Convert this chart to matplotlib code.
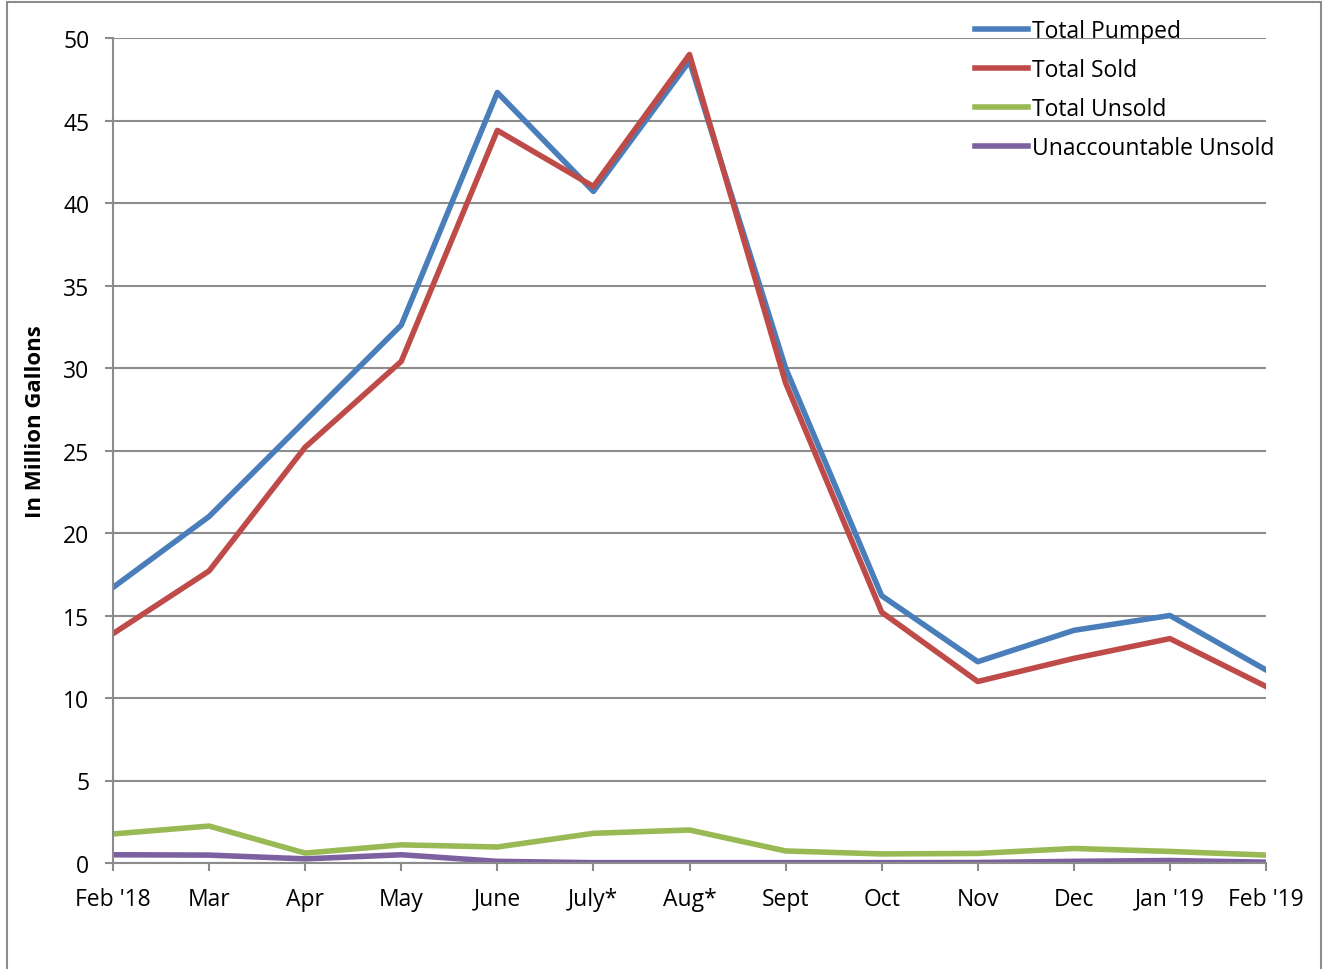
import matplotlib.pyplot as plt
from matplotlib.patches import Rectangle

months = ["Feb '18", 'Mar', 'Apr', 'May', 'June', 'July*', 'Aug*',
          'Sept', 'Oct', 'Nov', 'Dec', "Jan '19", "Feb '19"]

total_pumped = [16.7, 21.0, 26.8, 32.6, 46.7, 40.7, 48.6, 30.0, 16.2, 12.2, 14.1, 15.0, 11.7]
total_sold = [13.9, 17.7, 25.2, 30.4, 44.4, 41.0, 49.0, 29.1, 15.2, 11.0, 12.4, 13.6, 10.7]
total_unsold = [1.76, 2.24, 0.6, 1.1, 0.97, 1.8, 2.0, 0.73, 0.55, 0.58, 0.88, 0.7, 0.48]
unaccountable = [0.5, 0.48, 0.25, 0.5, 0.1, 0.02, 0.02, 0.02, 0.02, 0.03, 0.1, 0.15, 0.05]

plt.rcParams['font.family'] = ['Open Sans', 'DejaVu Sans']
grey = '#8c8c8c'

fig = plt.figure(figsize=(13.28, 9.7), dpi=100)
ax = fig.add_axes([113 / 1328, 1 - 864 / 970, (1266 - 113) / 1328, (864 - 39) / 970])

x = range(len(months))
lw = 4.0
ax.plot(x, total_pumped, color='#4a7ebb', lw=lw, label='Total Pumped')
ax.plot(x, total_sold, color='#be4b48', lw=lw, label='Total Sold')
ax.plot(x, total_unsold, color='#98b954', lw=lw, label='Total Unsold')
ax.plot(x, unaccountable, color='#7d60a0', lw=lw, label='Unaccountable Unsold')

ax.set_xlim(0, 12)
ax.set_ylim(0, 50)
ax.set_yticks(range(0, 51, 5))
ax.set_xticks(list(x))
ax.set_xticklabels(months)
ax.yaxis.grid(True, color=grey, lw=1.5)
ax.set_axisbelow(True)
for s in ('top', 'right'):
    ax.spines[s].set_visible(False)
for s in ('left', 'bottom'):
    ax.spines[s].set_color(grey)
    ax.spines[s].set_linewidth(1.5)
ax.tick_params(axis='both', direction='out', length=6, width=1.5, color=grey,
               labelsize=16.5)
ax.tick_params(axis='y', pad=11)
ax.tick_params(axis='x', pad=11)
ax.set_ylabel('In Million Gallons', fontsize=16, fontweight='bold')
ax.yaxis.set_label_coords(-67 / 1153, (864 - 422) / 825)

ax.legend(loc='upper left', bbox_to_anchor=(975 / 1328, 1 - 20 / 970),
          bbox_transform=fig.transFigure, frameon=False, fontsize=16.5,
          handlelength=2.3, handletextpad=0.2, labelspacing=0.66,
          borderaxespad=0, borderpad=0)

fig.patches.append(Rectangle((7 / 1328, -0.01), (1321 - 7) / 1328, 1.01 - 3 / 970,
                             transform=fig.transFigure, fill=False,
                             edgecolor=grey, lw=1.5))

fig.savefig('out.png', dpi=100)
